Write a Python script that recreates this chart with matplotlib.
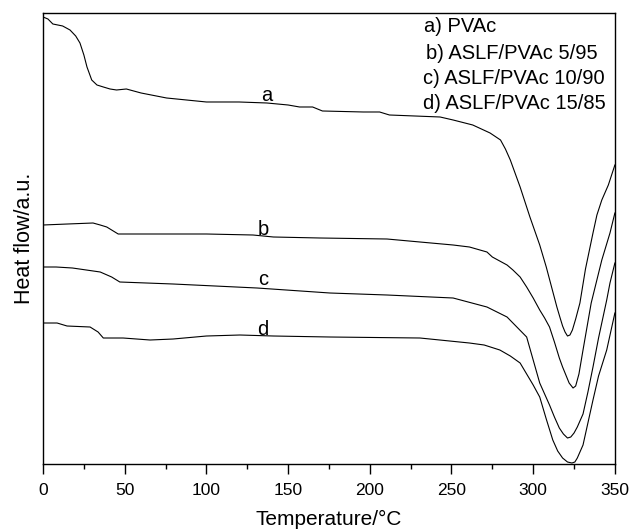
import matplotlib
matplotlib.use("Agg")
import matplotlib.pyplot as plt
from matplotlib.ticker import MultipleLocator

plt.rcParams['font.family'] = ['Liberation Sans', 'DejaVu Sans']

# DSC curves, heat flow in arbitrary units (curves offset as in the figure)
temp_a = [0, 3, 6, 12, 16.5, 20, 22.6, 25, 26.9, 29.8, 33, 36.9, 41, 45, 51, 60,
          75.6, 100, 120, 137, 150, 157, 165, 171, 196, 206, 212, 243, 251, 263,
          273.6, 280, 283, 286, 292, 298, 304, 308, 314.5, 316.5, 318, 319.5, 321,
          322.5, 324, 326, 328.6, 332, 336.6, 339, 342, 346, 350]
flow_a = [447, 445, 440, 438, 434, 428, 421, 409, 397, 384, 379, 377, 375, 374, 375, 371,
          366, 362, 362, 361, 359, 357, 357, 353, 352, 352, 349, 347, 344, 339,
          331, 324, 315, 304, 277, 247, 219, 197, 157, 146, 138, 132, 128,
          129, 134, 145, 161, 195, 231, 249, 264, 279, 299]

temp_b = [0, 15, 30.6, 35, 39, 43, 46, 70, 100, 128.5, 141, 169.5, 210.5, 230.7,
          251, 261, 271.7, 275, 284, 287.6, 292, 296, 300, 304, 307, 310, 313, 316,
          318, 320, 322, 324.4, 326, 328, 330.5, 335.5, 342, 347, 350]
flow_b = [239, 240, 241, 239, 237, 233, 230, 230, 230, 229, 227, 226, 225, 222,
          219, 217, 212, 207, 199, 194, 187, 177, 166, 154, 146, 137, 122, 106,
          97, 89, 81, 76, 78, 90, 114, 161, 204, 231, 251]

temp_c = [0, 8, 18, 35, 42, 47, 79.6, 131, 175.6, 210.5, 251, 271.7, 284, 296,
          304, 307, 310, 313, 316, 318.5, 321, 323, 325, 327, 330.5, 333.5, 336.6,
          340, 345, 347, 350]
flow_c = [197, 197, 196, 192, 187, 182, 180, 176, 171, 169, 166, 157, 147, 127,
          81, 70, 59, 47, 36, 30, 26, 27, 31, 37, 50, 72, 97,
          126, 164, 181, 201]

temp_d = [0, 8.6, 14.7, 28.8, 33.7, 36.9, 49, 65.5, 79.6, 100, 120.5, 141, 175.6,
          230.7, 261, 270, 279.6, 286, 292, 300, 304, 308, 312, 315, 318, 321,
          323.7, 325.5, 327, 330.5, 336.6, 340, 345, 350]
flow_d = [141, 141, 138, 137, 132, 126, 126, 124, 125, 128, 129, 128, 127,
          126, 121, 119, 114, 108, 101, 79, 67, 45, 24, 13, 6, 2,
          1, 2, 6, 19, 64, 88, 114, 151]

curve_tags = ['a', 'b', 'c', 'd']
tag_pos = [(137, 363), (134.6, 229), (134.6, 179), (134.6, 129)]
legend_lines = ['a) PVAc', 'b) ASLF/PVAc 5/95', 'c) ASLF/PVAc 10/90', 'd) ASLF/PVAc 15/85']

fig = plt.figure(figsize=(6.3, 5.3), dpi=100)
ax = fig.add_axes([0.0683, 0.1245, 0.9077, 0.851])

for t, f in [(temp_a, flow_a), (temp_b, flow_b), (temp_c, flow_c), (temp_d, flow_d)]:
    ax.plot(t, f, color='black', lw=0.8)

for tag, (tx, ty) in zip(curve_tags, tag_pos):
    ax.text(tx, ty, tag, fontsize=14.5, ha='center', va='baseline')

leg_x = [0.666, 0.669, 0.664, 0.664]
leg_y = [0.969, 0.911, 0.854, 0.800]
for s, lx, ly in zip(legend_lines, leg_x, leg_y):
    ax.text(lx, ly, s, transform=ax.transAxes, fontsize=14.5, ha='left', va='center')

ax.set_xlim(0, 350)
ax.set_ylim(0, 451)
ax.xaxis.set_major_locator(MultipleLocator(50))
ax.xaxis.set_minor_locator(MultipleLocator(25))
ax.tick_params(axis='x', which='major', direction='out', length=7, width=1, labelsize=12.5, pad=7)
ax.tick_params(axis='x', which='minor', direction='out', length=3.5, width=1)
ax.set_yticks([])
for sp in ax.spines.values():
    sp.set_linewidth(1)

ax.set_xlabel('Temperature/°C', fontsize=15, labelpad=8)
ax.set_ylabel('Heat flow/a.u.', fontsize=15.5, labelpad=6)

fig.savefig('out.png', dpi=100)
